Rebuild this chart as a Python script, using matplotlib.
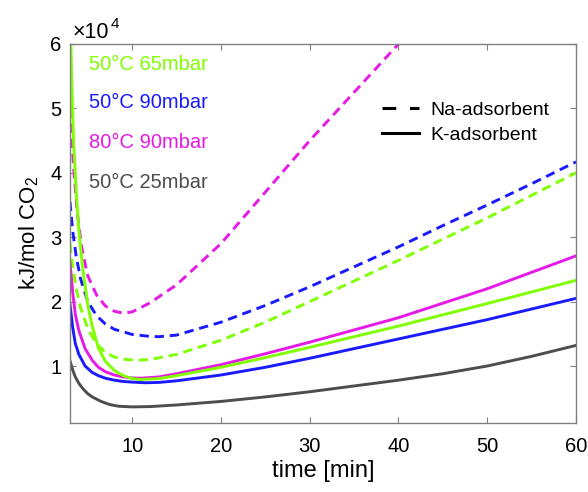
import matplotlib
matplotlib.use("Agg")
import matplotlib.pyplot as plt
from matplotlib.lines import Line2D
import numpy as np

plt.rcParams['font.family'] = ['Liberation Sans', 'DejaVu Sans']
plt.rcParams['mathtext.fontset'] = 'custom'
plt.rcParams['mathtext.rm'] = 'Liberation Sans'

# --- data (kJ/mol CO2 vs time in min) ---
t_na80_90 = [3.0, 3.4, 3.8, 4.3, 5.0, 6.0, 7.0, 8.0, 9.0, 10.0, 12.0, 15.0, 20.0, 25.0, 30.0, 35.0, 40.0, 45.0]
e_na80_90 = [50000, 41000, 34000, 28500, 24000, 21000, 19300, 18500, 18200, 18400, 19800, 22600, 29000, 37000, 45000, 52500, 60000, 68000]

t_na50_90 = [3.0, 3.3, 3.7, 4.2, 5.0, 6.0, 7.0, 8.0, 10.0, 12.0, 13.0, 15.0, 20.0, 25.0, 30.0, 35.0, 40.0, 45.0, 50.0, 55.0, 60.0]
e_na50_90 = [35500, 31000, 27000, 23500, 20000, 17800, 16500, 15700, 14900, 14600, 14550, 14800, 16800, 19400, 22300, 25400, 28500, 31800, 35000, 38300, 41700]

t_na50_65 = [3.0, 3.3, 3.7, 4.2, 5.0, 6.0, 7.0, 8.0, 9.0, 10.5, 12.0, 15.0, 20.0, 25.0, 30.0, 35.0, 40.0, 45.0, 50.0, 55.0, 60.0]
e_na50_65 = [29000, 25500, 22000, 19000, 15800, 13400, 12100, 11400, 11050, 10900, 11000, 11800, 14000, 16800, 20000, 23200, 26400, 29700, 33000, 36500, 40000]

t_k80_90 = [3.0, 3.3, 3.6, 4.0, 4.7, 5.5, 6.2, 7.0, 8.0, 9.0, 10.0, 11.0, 13.0, 15.0, 20.0, 25.0, 30.0, 40.0, 50.0, 60.0]
e_k80_90 = [26000, 21500, 18000, 15500, 12700, 10900, 9800, 9100, 8600, 8300, 8150, 8100, 8300, 8800, 10200, 11900, 13700, 17500, 22000, 27100]

t_k50_65 = [3.0, 3.2, 3.4, 3.7, 4.0, 4.4, 5.0, 5.5, 6.2, 7.0, 8.0, 9.0, 10.0, 11.0, 13.0, 15.0, 20.0, 25.0, 30.0, 40.0, 50.0, 60.0]
e_k50_65 = [66000, 54000, 45000, 37000, 31000, 25500, 19500, 16200, 12800, 10700, 9300, 8500, 8050, 7900, 8050, 8500, 9800, 11300, 12900, 16200, 19700, 23300]

t_k50_90 = [3.0, 3.3, 3.6, 4.0, 4.7, 5.5, 6.2, 7.0, 8.0, 9.0, 10.0, 11.5, 13.0, 15.0, 20.0, 25.0, 30.0, 40.0, 50.0, 60.0]
e_k50_90 = [19500, 16000, 13500, 11800, 10000, 9000, 8500, 8100, 7800, 7600, 7500, 7400, 7450, 7700, 8600, 9800, 11200, 14200, 17200, 20500]

t_k50_25 = [3.0, 3.3, 3.6, 4.0, 4.5, 5.0, 5.5, 6.5, 7.5, 8.5, 10.0, 12.0, 15.0, 20.0, 25.0, 30.0, 35.0, 40.0, 45.0, 50.0, 55.0, 60.0]
e_k50_25 = [10800, 9400, 8300, 7300, 6400, 5700, 5200, 4500, 4000, 3750, 3650, 3700, 3950, 4500, 5200, 6000, 6900, 7800, 8800, 10000, 11500, 13200]

labels = ['50°C 65mbar', '50°C 90mbar', '80°C 90mbar', '50°C 25mbar']
colors = ['#80ff00', '#1a1aff', '#e619e6', '#4d4d4d']

fig = plt.figure(figsize=(5.88, 4.92), dpi=100)
ax = fig.add_axes([70/588, 69/492, 506/588, 379/492])

lw = 2.1
dash = (3.2, 2.0)
ax.plot(t_na80_90, e_na80_90, color=colors[2], lw=lw, ls=(0, dash))
ax.plot(t_na50_90, e_na50_90, color=colors[1], lw=lw, ls=(0, dash))
ax.plot(t_na50_65, e_na50_65, color=colors[0], lw=lw, ls=(0, dash))
ax.plot(t_k80_90, e_k80_90, color=colors[2], lw=lw)
ax.plot(t_k50_65, e_k50_65, color=colors[0], lw=lw)
ax.plot(t_k50_90, e_k50_90, color=colors[1], lw=lw)
ax.plot(t_k50_25, e_k50_25, color=colors[3], lw=lw)

ax.set_xlim(3, 60)
ax.set_ylim(1150, 60000)
ax.set_xticks([10, 20, 30, 40, 50, 60])
ax.set_yticks([10000, 20000, 30000, 40000, 50000, 60000])
ax.set_yticklabels(['1', '2', '3', '4', '5', '6'])
ax.tick_params(direction='in', top=True, right=True, labelsize=14.5, length=4, color='#808080')
ax.tick_params(axis='x', pad=10)
ax.tick_params(axis='y', pad=6)
for s in ax.spines.values():
    s.set_color('#808080')
    s.set_linewidth(1.0)

ax.set_xlabel('time [min]', fontsize=17, labelpad=3)
ax.set_ylabel(r'kJ/mol CO$_2$', fontsize=16, labelpad=7)
ax.text(73/588, 1 - 32/492, '×10', transform=fig.transFigure, fontsize=15.5, ha='left', va='center')
ax.text(111/588, 1 - 24/492, '4', transform=fig.transFigure, fontsize=11, ha='left', va='center')

ys = [64, 103, 143, 182]
for lab, c, yp in zip(labels, colors, ys):
    ax.text(89/588, 1 - yp/492, lab, transform=fig.transFigure, color=c, fontsize=14.5, ha='left', va='center')

handles = [Line2D([], [], color='black', lw=2.2, ls=(0, (4.5, 4.5))), Line2D([], [], color='black', lw=2.2)]
leg = ax.legend(handles, ['Na-adsorbent', 'K-adsorbent'], loc='upper left', bbox_to_anchor=(368/588, 1 - 88/492),
                bbox_transform=fig.transFigure, frameon=False, fontsize=14, handlelength=1.9, handletextpad=0.6,
                labelspacing=0.35, borderpad=0.2)

fig.savefig('out.png', dpi=100)
